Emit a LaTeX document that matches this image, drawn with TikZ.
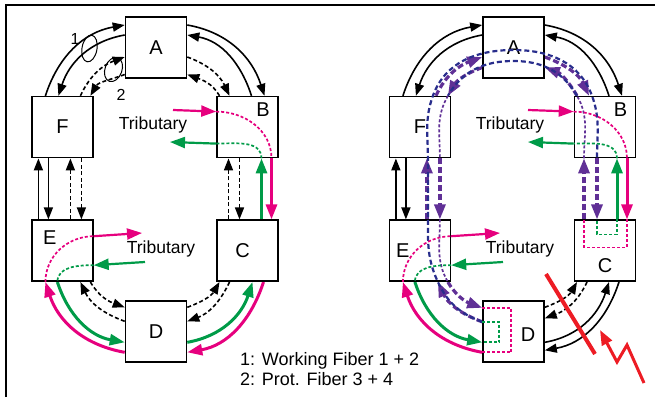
\documentclass[tikz,border=0pt]{standalone}
\usepackage{fontspec}
\setmainfont{Liberation Sans}
\usetikzlibrary{arrows.meta, positioning, calc, backgrounds, shapes.geometric}
\definecolor{tribmag}{RGB}{230,0,126}
\definecolor{tribgrn}{RGB}{0,155,72}
\definecolor{protpur}{RGB}{96,48,150}
\definecolor{protnav}{RGB}{40,45,140}
\definecolor{failred}{RGB}{237,28,36}

\begin{document}
\begin{tikzpicture}[x=1pt, y=1pt,
  box/.style={draw, line width=1.6pt, fill=white, minimum size=61pt,
              inner sep=0pt, font=\fontsize{20}{24}\selectfont},
  lbl/.style={font=\fontsize{20}{24}\selectfont},
  tribtext/.style={font=\fontsize{17.5}{20}\selectfont},
  legend/.style={font=\fontsize{18}{20}\selectfont, anchor=base west, inner sep=0pt},
  blacktip/.style={-{Triangle[length=12pt,width=9pt]}},
  colortip/.style={-{Triangle[length=15pt,width=11pt]}},
  work/.style={blacktip, line width=1.6pt},
  prot/.style={blacktip, line width=1.6pt, dash pattern=on 4pt off 2.5pt},
  magwork/.style={colortip, line width=3pt, tribmag},
  grnwork/.style={colortip, line width=3pt, tribgrn},
  magtrib/.style={colortip, line width=2.2pt, tribmag},
  grntrib/.style={colortip, line width=2.2pt, tribgrn},
  magpass/.style={line width=1.7pt, tribmag, dash pattern=on 3pt off 2pt},
  grnpass/.style={line width=1.7pt, tribgrn, dash pattern=on 3pt off 2pt},
  purprot/.style={colortip, line width=3.2pt, protpur, dash pattern=on 6pt off 3pt},
  navthru/.style={line width=2.2pt, protnav, dash pattern=on 5pt off 3pt},
  purthru/.style={line width=1.7pt, protpur, dash pattern=on 3pt off 2pt},
  ringsel/.style={draw, ellipse, line width=1pt, inner sep=0pt}
]
\useasboundingbox (0,0) rectangle (655,-397);
\draw[line width=2pt] (6,-397) -- (6,-5) -- (655,-5);

% left ring: normal operation
\node[box] (A) at (156,-47.5) {A};
\node[box, below left=17pt and 31pt of A] (F) {F};
\node[box, right=122.5pt of F, label={[lbl, xshift=15.5pt, yshift=17.5pt]center:B}] (B) {};
\node[box, below=61pt of F, label={[lbl, xshift=-12.5pt, yshift=13pt]center:E}] (E) {};
\node[box, right=122.5pt of E, label={[lbl, xshift=-5pt]center:C}] (C) {};
\node[box, below right=18pt and 31pt of E] (D) {D};

\begin{scope}[on background layer]
\draw[work] ([xshift=-17pt]F.north) to[out=72,in=190] ([yshift=22.5pt]A.west);
\draw[work] ([yshift=12.5pt]A.west) to[out=190,in=72] ([xshift=-4pt]F.north);
\draw[work] ([yshift=22.5pt]A.east) to[out=-10,in=108] ([xshift=17pt]B.north);
\draw[work] ([xshift=4pt]B.north) to[out=108,in=-10] ([yshift=12.5pt]A.east);
\draw[prot] ([xshift=18pt]F.north) to[out=65,in=200] ([yshift=-9.5pt]A.west);
\draw[prot] ([yshift=-27pt]A.west) to[out=200,in=60] ([xshift=28pt]F.north);
\draw[prot] ([yshift=-9.5pt]A.east) to[out=-20,in=115] ([xshift=-18pt]B.north);
\draw[prot] ([xshift=-28pt]B.north) to[out=120,in=-20] ([yshift=-27pt]A.east);
\draw[work] ([xshift=-24pt]E.north) -- ([xshift=-24pt]F.south);
\draw[work] ([xshift=-14pt]F.south) -- ([xshift=-14pt]E.north);
\draw[prot] ([xshift=8pt]E.north) -- ([xshift=8pt]F.south);
\draw[prot] ([xshift=19pt]F.south) -- ([xshift=19pt]E.north);
\draw[prot] ([xshift=-19pt]C.north) -- ([xshift=-19pt]B.south);
\draw[prot] ([xshift=-8pt]B.south) -- ([xshift=-8pt]C.north);
\draw[grnwork] ([xshift=14pt]C.north) -- ([xshift=14pt]B.south);
\draw[magwork] ([xshift=24pt]B.south) -- ([xshift=24pt]C.north);
\draw[magwork] ([yshift=-21pt]D.west) to[out=170,in=-72] ([xshift=-17pt]E.south);
\draw[grnwork] ([xshift=-5pt]E.south) to[out=-72,in=170] ([yshift=-11pt]D.west);
\draw[prot] ([yshift=10pt]D.west) to[out=160,in=-65] ([xshift=18pt]E.south);
\draw[prot] ([xshift=28pt]E.south) to[out=-60,in=160] ([yshift=24pt]D.west);
\draw[grnwork] ([yshift=-11pt]D.east) to[out=10,in=-108] ([xshift=5pt]C.south);
\draw[magwork] ([xshift=16pt]C.south) to[out=-108,in=10] ([yshift=-21pt]D.east);
\draw[prot] ([xshift=-18pt]C.south) to[out=-115,in=20] ([yshift=10pt]D.east);
\draw[prot] ([yshift=24pt]D.east) to[out=20,in=-120] ([xshift=-28pt]C.south);
\end{scope}

\node[ringsel, minimum width=15pt, minimum height=27pt, rotate=-10] (sel1) at (89.5,-48.5) {};
\node[ringsel, minimum width=17pt, minimum height=25pt, rotate=-20] (sel2) at (113.5,-69.5) {};
\node[font=\fontsize{16}{18}\selectfont, inner sep=0pt] (n1) at (75,-39) {1};
\node[font=\fontsize{16}{18}\selectfont, inner sep=0pt] (n2) at (121,-95) {2};

% tributaries
\coordinate (tBin) at (173,-110);
\coordinate (tBout) at (170,-142);
\coordinate (tEout) at (142,-233);
\coordinate (tEin) at (145,-262);
\node[tribtext] (tribB) at (153,-125) {Tributary};
\node[tribtext] (tribE) at (161,-249) {Tributary};
\draw[magtrib] (tBin) -- ([yshift=15.5pt]B.west);
\draw[magpass] ([yshift=15.5pt]B.west) to[out=0,in=90] ([xshift=24pt]B.south);
\draw[grnpass] ([xshift=14pt]B.south) to[out=90,in=0] ([yshift=-16.5pt]B.west);
\draw[grntrib] ([yshift=-16.5pt]B.west) -- (tBout);
\draw[magpass] ([xshift=-17pt]E.south) to[out=90,in=180] ([yshift=14.5pt]E.east);
\draw[magtrib] ([yshift=14.5pt]E.east) -- (tEout);
\draw[grntrib] (tEin) -- ([yshift=-14.5pt]E.east);
\draw[grnpass] ([yshift=-14.5pt]E.east) to[out=180,in=90] ([xshift=-5pt]E.south);

% right ring: protection switching after fiber cut C-D
\node[box] (rA) at (513.5,-47.5) {A};
\node[box, below left=17pt and 31pt of rA] (rF) {F};
\node[box, right=122.5pt of rF, label={[lbl, xshift=15.5pt, yshift=17.5pt]center:B}] (rB) {};
\node[box, below=61pt of rF, label={[lbl, xshift=-17pt]center:E}] (rE) {};
\node[box, right=122.5pt of rE, label={[lbl, yshift=-14.5pt]center:C}] (rC) {};
\node[box, below right=18pt and 31pt of rE, label={[lbl, xshift=14.5pt, yshift=-3.5pt]center:D}] (rD) {};

\begin{scope}[on background layer]
\draw[work] ([xshift=-17pt]rF.north) to[out=72,in=190] ([yshift=22.5pt]rA.west);
\draw[work] ([yshift=12.5pt]rA.west) to[out=190,in=72] ([xshift=-4pt]rF.north);
\draw[work] ([yshift=22.5pt]rA.east) to[out=-10,in=108] ([xshift=17pt]rB.north);
\draw[work] ([xshift=4pt]rB.north) to[out=108,in=-10] ([yshift=12.5pt]rA.east);
\draw[work] ([xshift=-24pt]rE.north) -- ([xshift=-24pt]rF.south);
\draw[work] ([xshift=-14pt]rF.south) -- ([xshift=-14pt]rE.north);
\draw[grnwork] ([xshift=12pt]rC.north) -- ([xshift=12pt]rB.south);
\draw[magwork] ([xshift=22pt]rB.south) -- ([xshift=22pt]rC.north);
\draw[magwork] ([yshift=-21pt]rD.west) to[out=170,in=-72] ([xshift=-17pt]rE.south);
\draw[grnwork] ([xshift=-5pt]rE.south) to[out=-72,in=170] ([yshift=-11pt]rD.west);
\draw[work] ([yshift=-11pt]rD.east) to[out=10,in=-108] ([xshift=4pt]rC.south);
\draw[work] ([xshift=14pt]rC.south) to[out=-108,in=10] ([yshift=-19pt]rD.east);
\draw[prot] ([xshift=-18pt]rC.south) to[out=-115,in=20] ([yshift=13pt]rD.east);
\draw[prot] ([yshift=24pt]rD.east) to[out=20,in=-120] ([xshift=-28pt]rC.south);
% protection fibers carrying the traffic
\draw[purprot] ([xshift=16pt]rF.north) to[out=65,in=200] ([yshift=-9.5pt]rA.west);
\draw[purprot] ([yshift=-20pt]rA.west) to[out=200,in=60] ([xshift=28pt]rF.north);
\draw[purprot] ([yshift=-9.5pt]rA.east) to[out=-20,in=115] ([xshift=-16pt]rB.north);
\draw[purprot] ([xshift=-28pt]rB.north) to[out=120,in=-20] ([yshift=-20pt]rA.east);
\draw[purprot] ([xshift=7pt]rE.north) -- ([xshift=7pt]rF.south);
\draw[purprot] ([xshift=20pt]rF.south) -- ([xshift=20pt]rE.north);
\draw[purprot] ([xshift=-21pt]rC.north) -- ([xshift=-21pt]rB.south);
\draw[purprot] ([xshift=-8pt]rB.south) -- ([xshift=-8pt]rC.north);
\draw[purprot] ([yshift=9.5pt]rD.west) to[out=160,in=-65] ([xshift=18pt]rE.south);
\draw[purprot] ([xshift=28pt]rE.south) to[out=-60,in=160] ([yshift=23.5pt]rD.west);
\end{scope}

% pass-through paths
\draw[navthru] ([yshift=9.5pt]rD.west) to[out=160,in=-65] ([xshift=18pt]rE.south)
  to[out=115,in=-90] ([xshift=8pt]rE.north) -- ([xshift=8pt]rF.south)
  to[out=90,in=-110] ([xshift=13pt]rF.north) to[out=70,in=180] ([yshift=-2.5pt]rA.center)
  to[out=0,in=110] ([xshift=-13pt]rB.north) to[out=-70,in=90] ([xshift=-8pt]rB.south);
\draw[navthru] ([xshift=-28pt]rB.north) to[out=120,in=0] ([yshift=-13.5pt]rA.center)
  to[out=180,in=60] ([xshift=28pt]rF.north);
\draw[purthru] ([xshift=-21pt]rB.south) to[out=90,in=-60] ([xshift=-28pt]rB.north);
\draw[purthru] ([xshift=28pt]rF.north) to[out=-120,in=90] ([xshift=20pt]rF.south);
\draw[purthru] ([xshift=20pt]rE.north) to[out=-90,in=120] ([xshift=28pt]rE.south);

% loop-backs in C and D
\draw[magpass] ([xshift=22pt]rC.north) -- ++(0,-28) -| ([xshift=-21pt]rC.north);
\draw[grnpass] ([xshift=12pt]rC.north) -- ++(0,-15) -| ([xshift=-8pt]rC.north);
\draw[magpass] ([yshift=23.5pt]rD.west) -- ++(29,0) |- ([yshift=-21pt]rD.west);
\draw[grnpass] ([yshift=9.5pt]rD.west) -- ++(17,0) |- ([yshift=-11pt]rD.west);

% tributaries
\coordinate (rtBin) at (528,-110);
\coordinate (rtBout) at (528,-142);
\coordinate (rtEout) at (500,-233);
\coordinate (rtEin) at (503,-262);
\node[tribtext] (rtribB) at (510,-125) {Tributary};
\node[tribtext] (rtribE) at (520,-249) {Tributary};
\draw[magtrib] (rtBin) -- ([yshift=15.5pt]rB.west);
\draw[magpass] ([yshift=15.5pt]rB.west) to[out=0,in=90] ([xshift=22pt]rB.south);
\draw[grnpass] ([xshift=12pt]rB.south) to[out=90,in=0] ([yshift=-16.5pt]rB.west);
\draw[grntrib] ([yshift=-16.5pt]rB.west) -- (rtBout);
\draw[magpass] ([xshift=-17pt]rE.south) to[out=90,in=180] ([yshift=14.5pt]rE.east);
\draw[magtrib] ([yshift=14.5pt]rE.east) -- (rtEout);
\draw[grntrib] (rtEin) -- ([yshift=-14.5pt]rE.east);
\draw[grnpass] ([yshift=-14.5pt]rE.east) to[out=180,in=90] ([xshift=-5pt]rE.south);

% fiber cut
\draw[failred, line width=4pt] (546,-274) -- (595,-354);
\draw[failred, line width=3pt, -{Triangle[length=15pt,width=11pt]}]
  (644,-383) -- (627,-345) -- (617,-362) -- (600,-330);

% legend
\node[legend] (leg1) at (240,-365) {1: Working Fiber 1 + 2};
\node[legend] (leg2) at (240,-385) {2: Prot. Fiber 3 + 4};
\end{tikzpicture}
\end{document}
